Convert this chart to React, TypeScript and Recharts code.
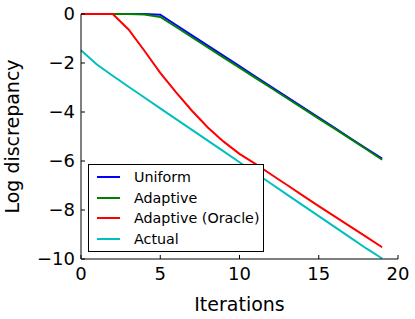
import React from 'react';
import { LineChart, Line, XAxis, YAxis, Legend } from 'recharts';

const iterations = [0, 1, 2, 3, 4, 5, 6, 7, 8, 9, 10, 11, 12, 13, 14, 15, 16, 17, 18, 19];
const uniform = [0, 0, 0, 0, 0, -0.03, -0.45, -0.87, -1.29, -1.71, -2.13, -2.55, -2.97, -3.39, -3.81, -4.23, -4.65, -5.07, -5.49, -5.9];
const adaptive = [0, 0, 0, 0, -0.02, -0.12, -0.53, -0.95, -1.36, -1.78, -2.19, -2.61, -3.02, -3.44, -3.85, -4.27, -4.68, -5.1, -5.52, -5.95];
const adaptiveOracle = [0, 0, 0, -0.63, -1.5, -2.4, -3.2, -3.95, -4.63, -5.21, -5.71, -6.12, -6.55, -6.98, -7.41, -7.84, -8.26, -8.68, -9.1, -9.52];
const actual = [-1.48, -2.06, -2.52, -2.97, -3.41, -3.85, -4.29, -4.73, -5.17, -5.61, -6.05, -6.49, -6.93, -7.37, -7.81, -8.25, -8.69, -9.13, -9.57, -9.98];

const xTicks = [0, 5, 10, 15, 20];
const yTicks = [0, -2, -4, -6, -8, -10];

const series = [
  { key: 'uniform', name: 'Uniform', color: '#0000ff' },
  { key: 'adaptive', name: 'Adaptive', color: '#008000' },
  { key: 'oracle', name: 'Adaptive (Oracle)', color: '#ff0000' },
  { key: 'actual', name: 'Actual', color: '#00bfbf' },
];

const data = iterations.map((it, i) => ({
  iter: it,
  uniform: uniform[i],
  adaptive: adaptive[i],
  oracle: adaptiveOracle[i],
  actual: actual[i],
}));

const FONT = '"DejaVu Sans", sans-serif';
const fmt = (v: number) => String(v).replace('-', '\u2212');

const LegendBox = () => (
  <div
    style={{
      width: 176,
      height: 88,
      boxSizing: 'border-box',
      border: '1px solid #000',
      background: '#fff',
      fontFamily: FONT,
      fontSize: 14.3,
      position: 'relative',
    }}
  >
    {series.map((s, i) => (
      <div
        key={s.key}
        style={{
          position: 'absolute',
          left: 0,
          top: 2 + i * 20.7,
          height: 20,
          display: 'flex',
          alignItems: 'center',
          whiteSpace: 'nowrap',
        }}
      >
        <div style={{ marginLeft: 8, width: 23, height: 2, background: s.color }} />
        <span style={{ marginLeft: 14, color: '#000' }}>{s.name}</span>
      </div>
    ))}
  </div>
);

export default function App() {
  return (
    <div style={{ position: 'absolute', left: 0, top: 0 }}>
      <LineChart
        width={415}
        height={319}
        data={data}
        margin={{ top: 14, right: 17, bottom: 0, left: 0 }}
        style={{ fontFamily: FONT }}
      >
        <XAxis
          dataKey="iter"
          type="number"
          domain={[0, 20]}
          ticks={xTicks}
          height={60}
          tickSize={-4}
          tickMargin={12}
          tick={{ fontSize: 18, fill: '#000', fontFamily: FONT }}
          stroke="#000"
          label={{ value: 'Iterations', position: 'insideBottom', offset: 8, fontSize: 19, fill: '#000', fontFamily: FONT }}
        />
        <XAxis
          xAxisId="top"
          orientation="top"
          type="number"
          domain={[0, 20]}
          ticks={xTicks}
          height={0}
          tickSize={-4}
          tick={false}
          stroke="#000"
        />
        <YAxis
          type="number"
          domain={[-10, 0]}
          ticks={yTicks}
          width={81}
          tickSize={-4}
          tickMargin={10}
          tickFormatter={fmt}
          tick={{ fontSize: 18, fill: '#000', fontFamily: FONT }}
          stroke="#000"
          label={{ value: 'Log discrepancy', angle: -90, position: 'insideLeft', offset: 12, fontSize: 19, fill: '#000', fontFamily: FONT, style: { textAnchor: 'middle' } }}
        />
        <YAxis
          yAxisId="right"
          orientation="right"
          type="number"
          domain={[-10, 0]}
          ticks={yTicks}
          width={0}
          tickSize={-4}
          tick={false}
          stroke="#000"
        />
        <Legend
          layout="vertical"
          align="center"
          verticalAlign="middle"
          content={() => <LegendBox />}
          wrapperStyle={{ left: 88, top: 164, width: 176, height: 88 }}
        />
        {series.map((s) => (
          <Line
            key={s.key}
            dataKey={s.key}
            name={s.name}
            stroke={s.color}
            strokeWidth={2}
            dot={false}
            isAnimationActive={false}
          />
        ))}
      </LineChart>
    </div>
  );
}
